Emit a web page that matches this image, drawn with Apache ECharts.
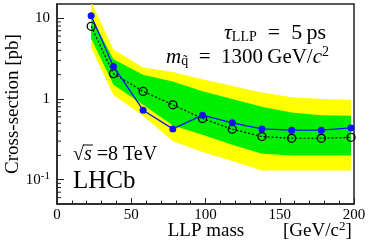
<!DOCTYPE html>
<html><head><meta charset="utf-8">
<script src="https://cdn.jsdelivr.net/npm/echarts@6/dist/echarts.min.js"></script>
<style>html,body{margin:0;padding:0;background:#fff}#c{width:368px;height:245px}</style>
</head><body><div id="c"></div>
<script>
const masses   = [23, 38, 58, 78, 98, 118, 138, 158, 178, 198];
const observed = [10.7, 2.53, 0.726, 0.426, 0.63, 0.506, 0.426, 0.41, 0.41, 0.438];
const expected = [7.94, 2.06, 1.24, 0.847, 0.573, 0.422, 0.342, 0.326, 0.326, 0.335];
const band2Up  = [16, 4.1, 2.45, 2.15, 1.75, 1.45, 1.2, 1.05, 1.0, 0.98];
const band1Up  = [10.5, 3.1, 2.0, 1.65, 1.25, 1.0, 0.8, 0.68, 0.63, 0.62];
const band1Low = [5.6, 1.5, 0.85, 0.47, 0.36, 0.27, 0.21, 0.2, 0.2, 0.2];
const band2Low = [4.3, 1.12, 0.62, 0.3, 0.22, 0.17, 0.13, 0.13, 0.13, 0.13];
const xMin = 0, xMax = 200, xInterval = 50;
const yMin = 0.05, yMax = 15;
const yMinorTicks = [0.06,0.07,0.08,0.09,0.2,0.3,0.4,0.5,0.6,0.7,0.8,0.9,2,3,4,5,6,7,8,9];

const FONT = 'Liberation Serif';
const chart = echarts.init(document.getElementById('c'), null, {renderer:'canvas'});

function bandSeries(up, low, color, z) {
  return {
    type: 'custom', z: z, clip: true, silent: true,
    data: [[masses[0], up[0]]],
    renderItem: function (params, api) {
      const pts = [];
      for (let i = 0; i < masses.length; i++) pts.push(api.coord([masses[i], up[i]]));
      for (let i = masses.length - 1; i >= 0; i--) pts.push(api.coord([masses[i], low[i]]));
      return {type: 'polygon', shape: {points: pts}, style: {fill: color}};
    }
  };
}

const option = {
  animation: false,
  grid: {left: 57, right: 14, top: 4, bottom: 41, show: true, borderColor: '#222', borderWidth: 1.5, outerBoundsMode: 'none'},
  xAxis: {
    type: 'value', min: xMin, max: xMax, interval: xInterval,
    axisLine: {show: true, lineStyle: {color: '#222', width: 1.5}},
    axisTick: {show: true, inside: true, length: 6, lineStyle: {color: '#222', width: 1}},
    minorTick: {show: true, splitNumber: 5, length: 3.5, lineStyle: {color: '#222', width: 1}},
    splitLine: {show: false},
    axisLabel: {fontFamily: FONT, fontSize: 15, color: '#000', margin: 4}
  },
  yAxis: {
    type: 'log', min: yMin, max: yMax,
    axisLine: {show: true, lineStyle: {color: '#222', width: 1.5}},
    axisTick: {show: true, inside: true, length: 7, lineStyle: {color: '#222', width: 1}},
    splitLine: {show: false},
    axisLabel: {
      fontFamily: FONT, fontSize: 15, color: '#000', margin: 7,
      showMinLabel: false, showMaxLabel: false,
      formatter: function (v) {
        const e = Math.round(Math.log10(v));
        if (Math.abs(Math.log10(v) - e) > 1e-6) return '';
        if (e === 0) return '1';
        if (e === 1) return '10';
        return '10{sup|' + e + '}';
      },
      rich: {sup: {fontFamily: FONT, fontSize: 11, color: '#000', verticalAlign: 'top', padding: [0, 0, 8, 0]}}
    }
  },
  series: [
    bandSeries(band2Up, band2Low, '#ffff00', 1),
    bandSeries(band1Up, band1Low, '#00ee00', 2),
    {
      type: 'custom', z: 3, silent: true,
      data: yMinorTicks.map(v => [xMin, v]),
      renderItem: function (params, api) {
        const p = api.coord([api.value(0), api.value(1)]);
        return {type: 'line', shape: {x1: p[0], y1: p[1], x2: p[0] + 4, y2: p[1]}, style: {stroke: '#222', lineWidth: 1}};
      }
    },
    {
      type: 'line', z: 4, data: masses.map((m, i) => [m, expected[i]]),
      symbol: 'circle', symbolSize: 8,
      lineStyle: {color: '#000', width: 1.2, type: [2, 2]},
      itemStyle: {color: 'rgba(0,0,0,0)', borderColor: '#000', borderWidth: 1.3}
    },
    {
      type: 'line', z: 5, data: masses.map((m, i) => [m, observed[i]]),
      symbol: 'circle', symbolSize: 7,
      lineStyle: {color: '#1010ff', width: 1.3},
      itemStyle: {color: '#1010ff'}
    }
  ],
  graphic: [
    {type: 'text', x: 13, y: 104, rotation: Math.PI / 2,
     style: {text: 'Cross-section [pb]', font: '19px "Liberation Serif"', fill: '#000', align: 'center', verticalAlign: 'middle'}},
    {type: 'text', x: 206, y: 231,
     style: {text: 'LLP mass', font: '19px "Liberation Serif"', fill: '#000', align: 'center', verticalAlign: 'middle'}},
    {type: 'text', x: 283, y: 231,
     style: {text: '[GeV/c{sup|2}]', font: '19px "Liberation Serif"', fill: '#000', align: 'left', verticalAlign: 'middle',
       rich: {sup: {font: '13px "Liberation Serif"', fill: '#000', verticalAlign: 'top', padding: [0, 0, 9, 0]}}}},
    {type: 'text', x: 224, y: 33,
     style: {text: '{it|τ}{sub|LLP}\u2002=\u20025\u2009ps', font: '22px "Liberation Serif"', fill: '#000', align: 'left', verticalAlign: 'middle',
       rich: {it: {font: 'italic 22px "Liberation Serif"', fill: '#000'},
              sub: {font: '14px "Liberation Serif"', fill: '#000', padding: [9, 0, 0, 0]}}}},
    {type: 'text', x: 166, y: 57,
     style: {text: '{it|m}{sub|q̃}\u2002=\u20021300\u2009GeV/{it|c}{sup|2}', font: '21px "Liberation Serif"', fill: '#000', align: 'left', verticalAlign: 'middle',
       rich: {it: {font: 'italic 21px "Liberation Serif"', fill: '#000'},
              sub: {font: '14px "Liberation Serif"', fill: '#000', padding: [9, 0, 0, 0]},
              sup: {font: '14px "Liberation Serif"', fill: '#000', padding: [0, 0, 10, 0]}}}},
    {type: 'text', x: 73, y: 155,
     style: {text: '√{it|s} =8 TeV', font: '20px "Liberation Serif"', fill: '#000', align: 'left', verticalAlign: 'middle',
       rich: {it: {font: 'italic 20px "Liberation Serif"', fill: '#000'}}}},
    {type: 'line', shape: {x1: 83, y1: 145, x2: 93, y2: 145}, style: {stroke: '#000', lineWidth: 1}},
    {type: 'text', x: 73, y: 181,
     style: {text: 'LHCb', font: '25px "Liberation Serif"', fill: '#000', align: 'left', verticalAlign: 'middle'}}
  ]
};
chart.setOption(option);
</script></body></html>
